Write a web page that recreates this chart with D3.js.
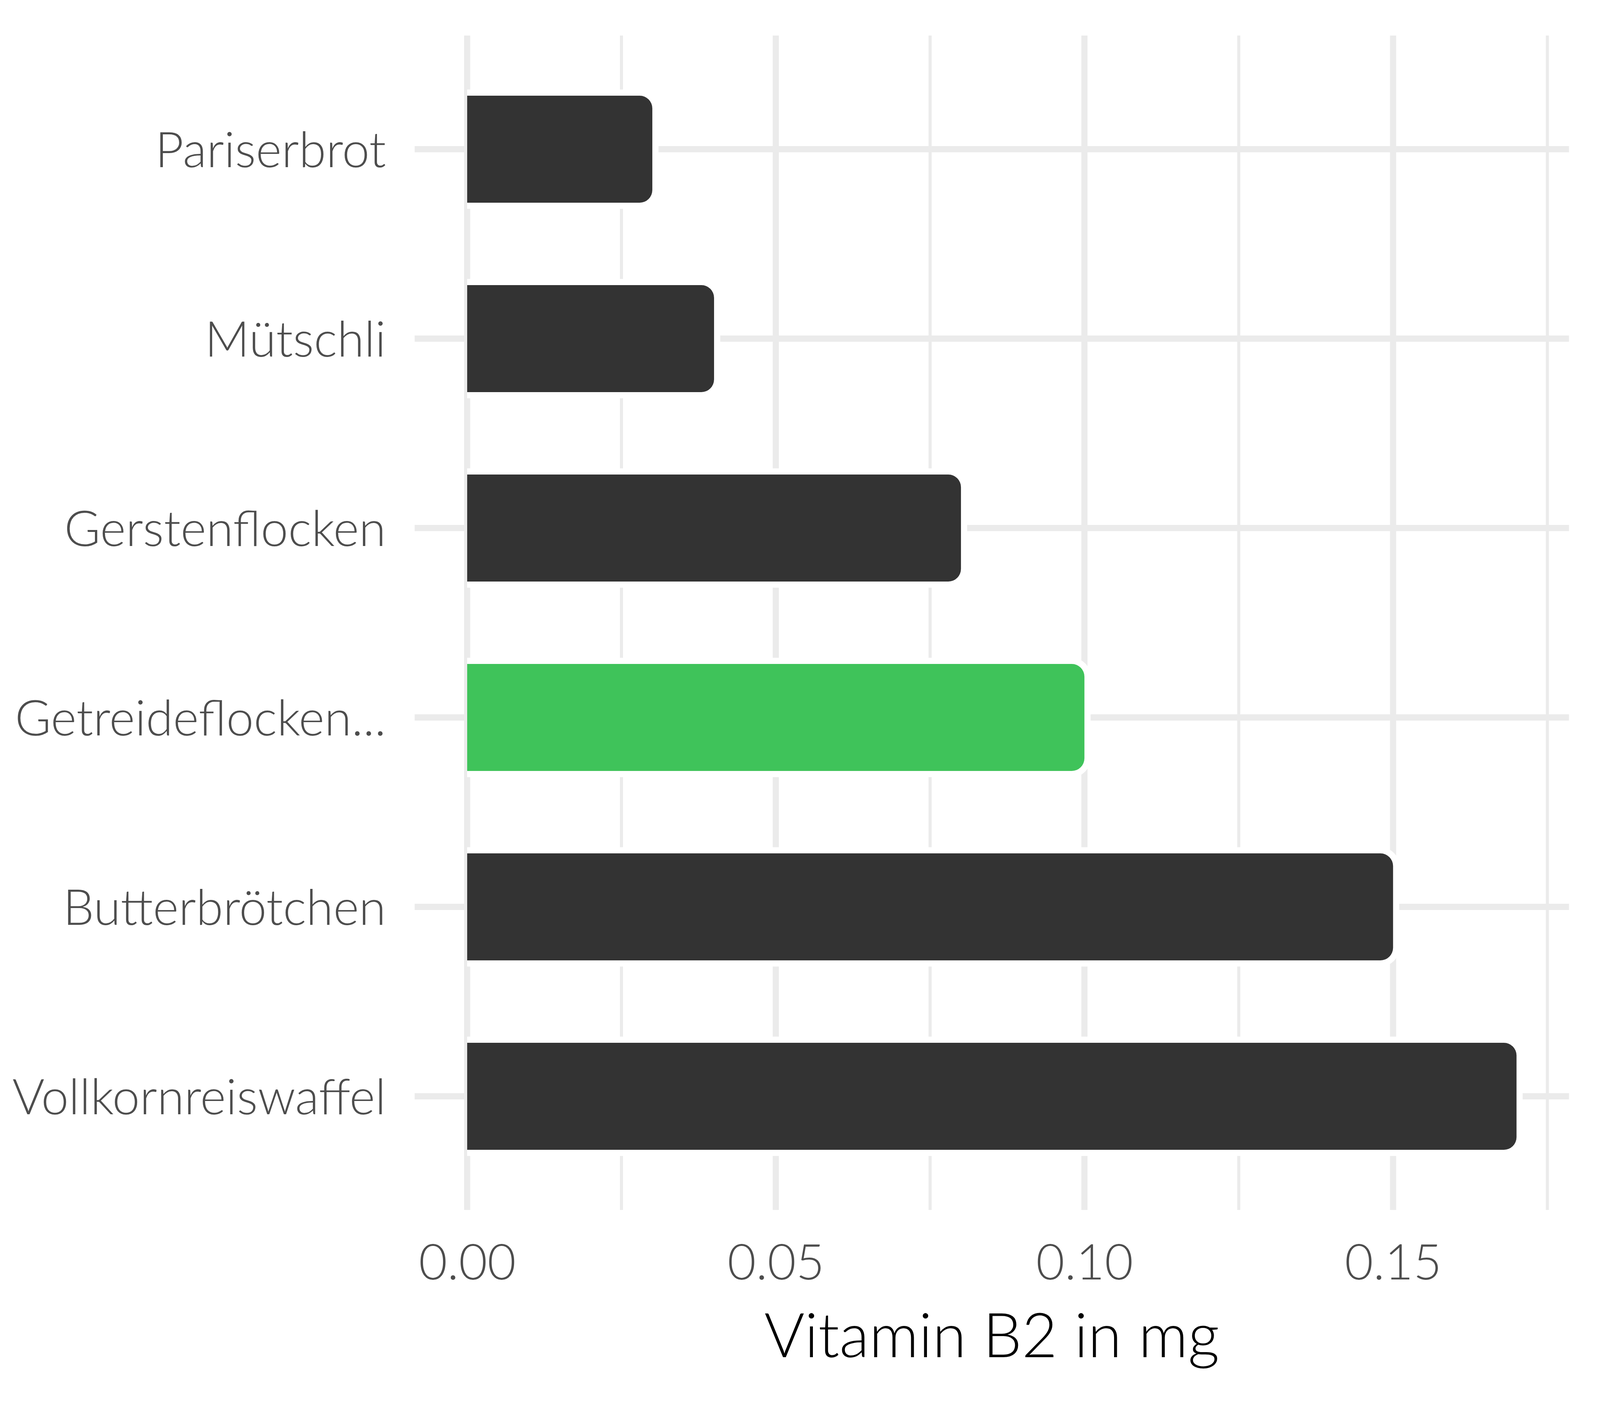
<!DOCTYPE html>
<html>
<head>
<meta charset="utf-8">
<script src="https://cdn.jsdelivr.net/npm/d3@7"></script>
<style>
	html, body { margin: 0; padding: 0; background: #fff; overflow: hidden; }
	svg { display: block; }
	text { font-family: Lato, "Open Sans", sans-serif; font-weight: 300; }
</style>
</head>
<body>
<div id="chart"></div>
<script>
// data
var categories = ["Pariserbrot", "Mütschli", "Gerstenflocken", "Getreideflocken...", "Butterbrötchen", "Vollkornreiswaffel"];
var values = [0.03, 0.04, 0.08, 0.10, 0.15, 0.17];
var barColors = ["#333333", "#333333", "#333333", "#3fc35a", "#333333", "#333333"];
var majorTicks = [0, 0.05, 0.10, 0.15];
var minorTicks = [0.025, 0.075, 0.125, 0.175];
var xTitle = "Vitamin B2 in mg";

// layout was measured on a 4800x3600 picture, scale it to the real viewport
var W = window.innerWidth || 4800,
	H = window.innerHeight || 3600;
var sx = W / 4800, sy = H / 3600, fs = (sx + sy) / 2;
var panel = {
	left: 1244 * sx,
	right: 4707 * sx,
	top: 91 * sy,
	bottom: 3098 * sy
};
var tickFont = 136 * fs, titleFont = 170 * fs;

var svg = d3.select("#chart")
	.append("svg")
	.attr("width", W)
	.attr("height", H);

// x: 0..0.17 with 5% expansion either side
var x = d3.scaleLinear()
	.domain([-0.0085, 0.1785])
	.range([panel.left, panel.right]);

// y: discrete, 0.6 step padding at each end
var y = d3.scalePoint()
	.domain(categories)
	.range([382 * sy, 2807 * sy]);
var step = y.step();

// grid
var grid = svg.append("g");
grid.selectAll(".minor")
	.data(minorTicks)
	.enter()
	.append("line")
	.attr("x1", function(d) { return x(d); })
	.attr("x2", function(d) { return x(d); })
	.attr("y1", panel.top)
	.attr("y2", panel.bottom)
	.attr("stroke", "#ebebeb")
	.attr("stroke-width", 8.5 * fs);
grid.selectAll(".major")
	.data(majorTicks)
	.enter()
	.append("line")
	.attr("x1", function(d) { return x(d); })
	.attr("x2", function(d) { return x(d); })
	.attr("y1", panel.top)
	.attr("y2", panel.bottom)
	.attr("stroke", "#ebebeb")
	.attr("stroke-width", 17 * fs);
grid.selectAll(".hmajor")
	.data(categories)
	.enter()
	.append("line")
	.attr("x1", panel.left)
	.attr("x2", panel.right)
	.attr("y1", function(d) { return y(d); })
	.attr("y2", function(d) { return y(d); })
	.attr("stroke", "#ebebeb")
	.attr("stroke-width", 17 * fs);

// bars, right end rounded, white outline
svg.append("clipPath")
	.attr("id", "barclip")
	.append("rect")
	.attr("x", x(0))
	.attr("y", 0)
	.attr("width", W - x(0))
	.attr("height", H);

var bh = step * 0.565, r = 35 * fs;
svg.append("g")
	.attr("clip-path", "url(#barclip)")
	.selectAll("path")
	.data(categories)
	.enter()
	.append("path")
	.attr("d", function(d, i) {
		var x0 = x(0), x1 = x(values[i]);
		var y0 = y(d) - bh / 2, y1 = y(d) + bh / 2;
		return "M" + x0 + "," + y0 + "H" + (x1 - r) +
			"A" + r + "," + r + " 0 0 1 " + x1 + "," + (y0 + r) +
			"V" + (y1 - r) +
			"A" + r + "," + r + " 0 0 1 " + (x1 - r) + "," + y1 +
			"H" + x0 + "Z";
	})
	.attr("fill", function(d, i) { return barColors[i]; })
	.attr("stroke", "#ffffff")
	.attr("stroke-width", 34 * fs)
	.attr("paint-order", "stroke");

// axes
var xAxis = svg.append("g")
	.attr("transform", "translate(0," + panel.bottom + ")")
	.call(d3.axisBottom(x)
		.tickValues(majorTicks)
		.tickFormat(d3.format(".2f"))
		.tickSize(0)
		.tickPadding(3276 * sy - panel.bottom - 0.71 * tickFont));
xAxis.select(".domain").remove();
xAxis.selectAll("text")
	.style("font-size", tickFont + "px")
	.style("font-family", "Lato, 'Open Sans', sans-serif")
	.style("font-weight", 300)
	.attr("fill", "#4d4d4d");

var yAxis = svg.append("g")
	.attr("transform", "translate(" + panel.left + ",0)")
	.call(d3.axisLeft(y)
		.tickSize(0)
		.tickPadding((1244 - 1158) * sx));
yAxis.select(".domain").remove();
yAxis.selectAll("text")
	.attr("dy", "0.36em")
	.style("font-size", tickFont + "px")
	.style("font-family", "Lato, 'Open Sans', sans-serif")
	.style("font-weight", 300)
	.attr("fill", "#4d4d4d");

// x title
svg.append("text")
	.attr("x", (panel.left + panel.right) / 2)
	.attr("y", 3475 * sy)
	.attr("text-anchor", "middle")
	.style("font-size", titleFont + "px")
	.attr("fill", "#000")
	.text(xTitle);
</script>
</body>
</html>
